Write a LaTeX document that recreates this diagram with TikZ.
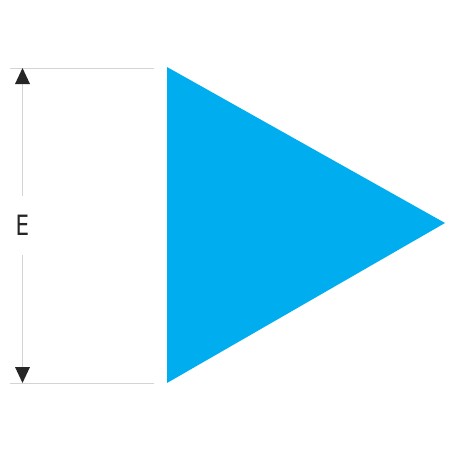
\documentclass[tikz,border=0pt]{standalone}
\usepackage{fontspec}
\newfontfamily\dimfont{DejaVu Sans Condensed}
\definecolor{triblue}{HTML}{00AEEF}
\definecolor{extgray}{HTML}{D4D4D4}
\begin{document}
\begin{tikzpicture}[x=1pt,y=-1pt,
    extline/.style={extgray,line width=1pt},
    dimline/.style={extgray,line width=1pt},
    dimtip/.style={fill=black!85,draw=none},
    dimlabel/.style={font=\dimfont\fontsize{28}{28}\selectfont,text=black!85,
      inner sep=0pt,minimum height=59pt,xscale=0.85}]
  \useasboundingbox (0,0) rectangle (452,452);

  % triangle
  \fill[triblue] (167,67) -- (167,383) -- (445,223) -- cycle;

  % extension lines
  \draw[extline] (10,68) -- (154,68);
  \draw[extline] (10,383) -- (154,383);

  % dimension E
  \node[dimlabel] (lbl) at (22.5,225.5) {E};
  \coordinate (top) at (22.5,84);
  \coordinate (bot) at (22.5,367);
  \draw[dimline] (top) -- (lbl.north);
  \draw[dimline] (lbl.south) -- (bot);
  \fill[dimtip] (22.5,68) -- (15,84) -- (30,84) -- cycle;
  \fill[dimtip] (22.5,383) -- (15,367) -- (30,367) -- cycle;
\end{tikzpicture}
\end{document}
